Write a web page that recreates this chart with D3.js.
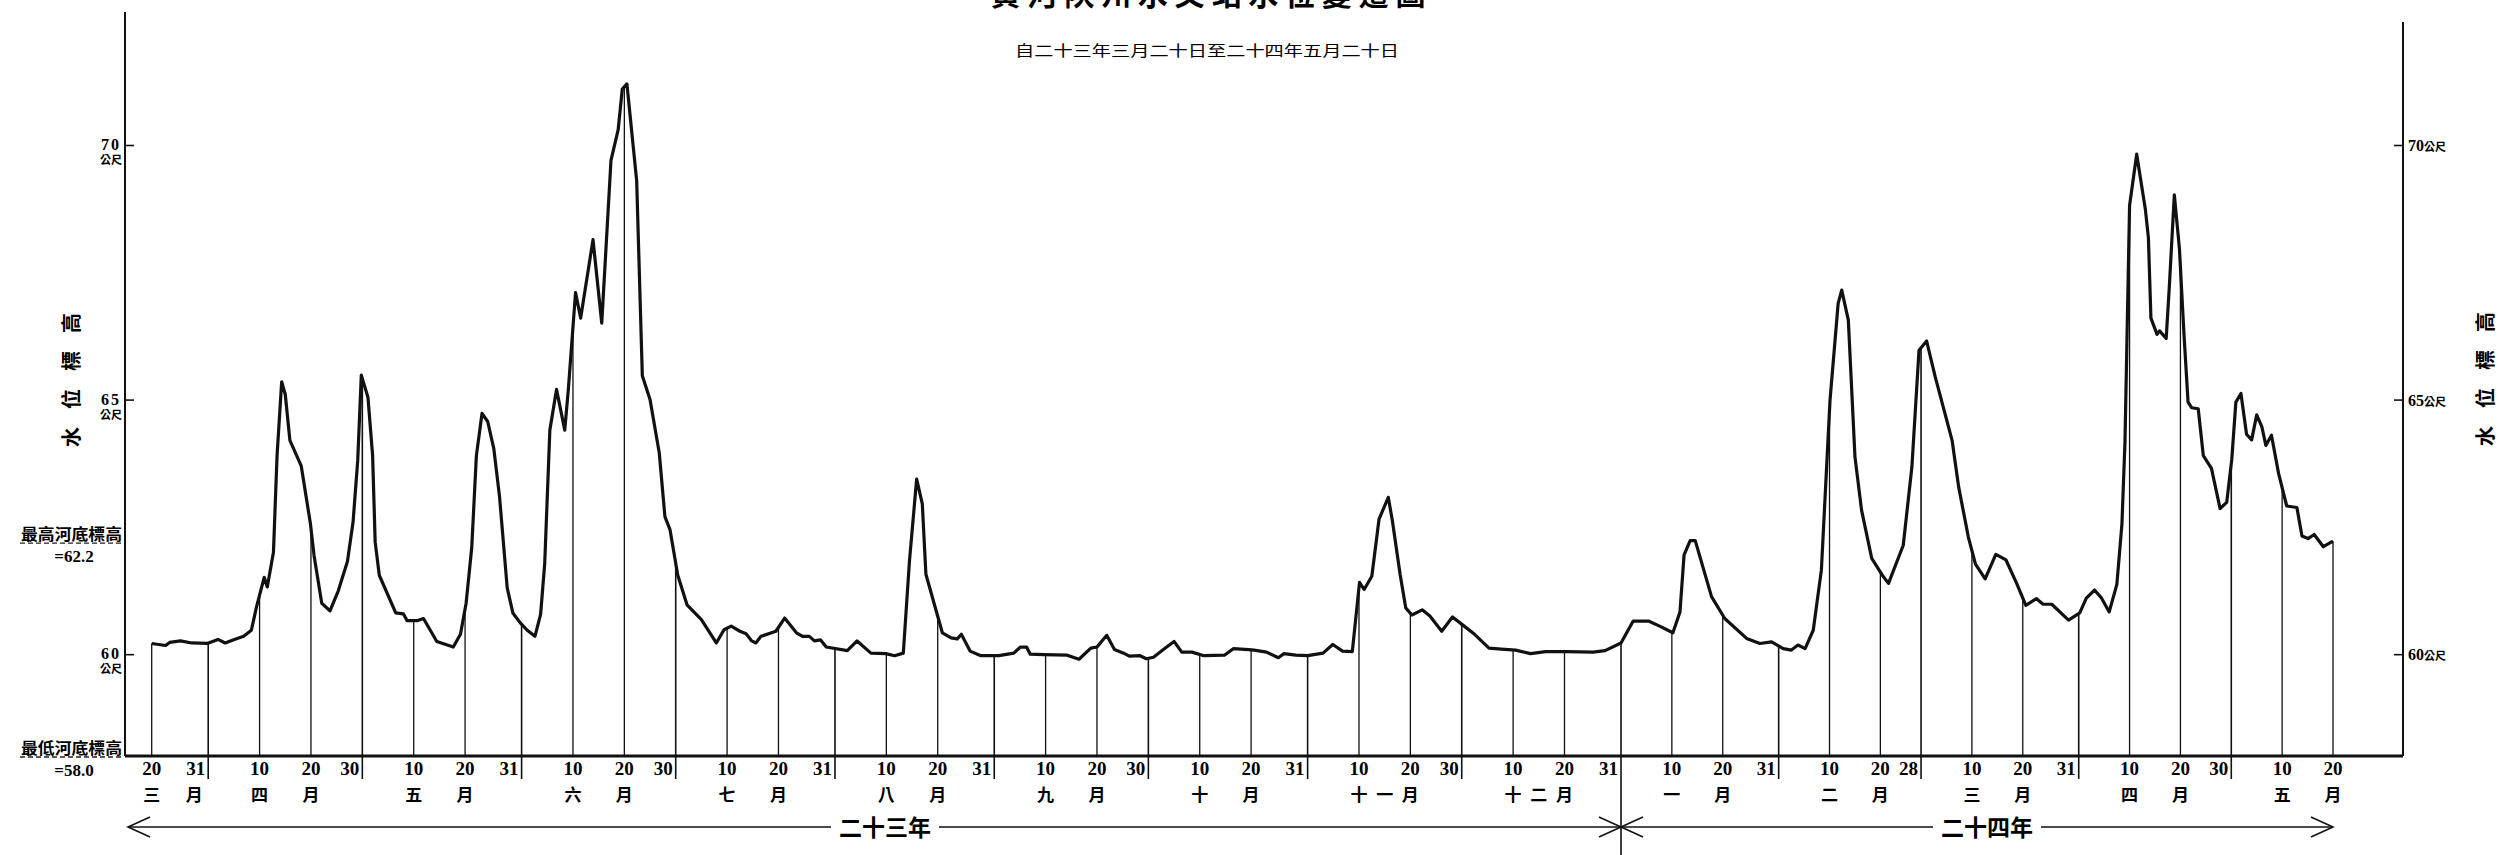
<!DOCTYPE html>
<html>
<head>
<meta charset="utf-8">
<script src="https://cdn.jsdelivr.net/npm/d3@7"></script>
<style>
  html, body { margin: 0; padding: 0; background: #fff; }
  svg { display: block; }
</style>
</head>
<body>
<svg id="chart" width="2499" height="855"></svg>
<script>
// Readings: days after 1934-03-20 and water level (metres above datum)
const readingDays = [
  0, 2.7, 3.5, 5.6, 7.8, 10.8, 12.9, 14.3, 16.1, 17.9, 19.4, 20.4, 21.9, 22.5, 23.7, 24.4, 25.3, 26, 26.9, 29.1,
  30.9, 31.6, 33.1, 34.7, 36.3, 38.1, 39.2, 40.1, 40.8, 42.1, 43, 43.5, 44.3, 47.5, 49, 49.7, 51.8, 52.9, 55.5, 58.7,
  60.1, 61.2, 62.3, 63.2, 64.3, 65.4, 66.6, 67.7, 69.2, 70.3, 71.7, 73.1, 74.6, 75.7, 76.5, 77.5, 78.8, 80.4, 81.1, 82.5,
  83.5, 85.9, 87.6, 89.4, 90.8, 91.6, 92.5, 94.4, 95.5, 97, 98.8, 99.9, 100.9, 102.4, 104.2,
  107, 109.9, 111.4, 112.8, 114.5, 115.7, 116.8, 117.6, 118.6, 121.5, 123.2, 125.5, 126.7, 128, 129, 130.2, 131.3, 135.4, 137.3, 140,
  142.9, 144.6, 146.3, 147.5, 148.9, 150, 150.7, 152.9, 153.9, 155.6, 156.8, 157.6, 159.3, 161.4, 164.9, 167.8, 169.1, 170.3, 171, 173.6,
  178.2, 180.5, 182.8, 184, 185.9, 187.4, 189.2, 190.3, 192.4, 193.6, 195, 197.3, 199, 200.5, 202.5, 204.8, 208.8, 210.6, 213.5, 214.6,
  217, 219.3, 220.4, 222.7, 225, 228, 229.9, 231.8, 233.7, 235.1, 236, 237.5, 238.9, 240.7, 241.5, 243, 244.1, 245.3, 247.3, 248.8,
  251.1, 253.2, 255.1, 257.5, 260.3, 262.7, 265.5, 268.4, 271.3, 275.4, 280.6, 282.9, 286,
  288.4, 291.4, 293.6, 296.2, 297.6, 298.4, 299.6, 300.6, 303.8, 306.4, 310.7, 313.3, 315.6, 317.9, 319.5, 320.8, 322.2, 323.8, 325.4, 327.1,
  328.7, 329.4, 330.7, 332, 333.3, 335.3, 337.6, 338.6, 341.5, 343.2, 344.6, 346.1, 347.8, 351.1, 352.4, 354.3, 355.7, 357.6, 359.7, 361.7,
  363.8, 365.6, 367.7, 369, 370.7, 374, 376.2, 377.5, 379.1, 380.5, 382, 383.5, 384.5, 385.1, 386, 387.4, 389.1, 389.7, 390.2, 391.4,
  391.9, 393.2, 393.8, 394.8, 395.8, 396.7, 397.5, 398.2, 399.5, 400.5, 402.1, 403.8, 405.1, 406.1, 406.9, 407.9, 409, 410, 411, 412,
  412.8, 413.9, 415.3, 416.9, 418.9, 419.9, 421.1, 422.3, 424.1, 426
];
const waterLevels = [
  60.21, 60.17, 60.23, 60.26, 60.22, 60.21, 60.29, 60.22, 60.29, 60.35, 60.47, 60.93, 61.51, 61.32, 62.0, 63.9, 65.35, 65.1, 64.2, 63.7,
  62.56, 61.94, 61.0, 60.85, 61.24, 61.82, 62.6, 63.8, 65.48, 65.04, 63.9, 62.2, 61.55, 60.81, 60.79, 60.66, 60.66, 60.7, 60.25, 60.14,
  60.39, 61.0, 62.1, 63.9, 64.73, 64.57, 64.03, 63.1, 61.3, 60.81, 60.62, 60.47, 60.35, 60.78, 61.78, 64.4, 65.2, 64.4, 65.2, 67.1,
  66.6, 68.14, 66.5, 69.7, 70.3, 71.1, 71.2, 69.3, 65.47, 65.0, 63.95, 62.7, 62.44, 61.55, 60.97,
  60.68, 60.22, 60.48, 60.55, 60.45, 60.40, 60.26, 60.22, 60.35, 60.45, 60.71, 60.42, 60.35, 60.35, 60.26, 60.28, 60.14, 60.07, 60.26, 60.02,
  60.01, 59.97, 60.02, 61.83, 63.44, 62.95, 61.57, 60.78, 60.42, 60.32, 60.30, 60.39, 60.06, 59.97, 59.97, 60.02, 60.14, 60.14, 60.00, 59.99,
  59.98, 59.90, 60.12, 60.14, 60.37, 60.09, 60.02, 59.96, 59.97, 59.91, 59.94, 60.12, 60.25, 60.04, 60.04, 59.97, 59.98, 60.11, 60.09, 60.08,
  60.04, 59.93, 60.01, 59.98, 59.97, 60.02, 60.19, 60.06, 60.05, 61.41, 61.27, 61.53, 62.65, 63.08, 62.62, 61.57, 60.91, 60.77, 60.87, 60.75,
  60.45, 60.73, 60.58, 60.39, 60.12, 60.10, 60.08, 60.01, 60.05, 60.05, 60.04, 60.07, 60.22,
  60.65, 60.65, 60.55, 60.42, 60.83, 61.95, 62.23, 62.23, 61.13, 60.70, 60.31, 60.21, 60.24, 60.11, 60.08, 60.18, 60.11, 60.47, 61.65, 64.99,
  66.89, 67.15, 66.56, 63.88, 62.83, 61.88, 61.52, 61.39, 62.14, 63.68, 65.97, 66.15, 65.44, 64.2, 63.28, 62.30, 61.77, 61.48, 61.96, 61.85,
  61.39, 60.96, 61.09, 60.98, 60.98, 60.67, 60.81, 61.10, 61.26, 61.10, 60.83, 61.37, 62.56, 64.18, 68.81, 69.82, 68.74, 68.18, 66.60, 66.28,
  66.35, 66.20, 67.19, 69.02, 67.97, 66.28, 64.95, 64.84, 64.82, 63.90, 63.65, 62.86, 62.98, 63.83, 64.95, 65.12, 64.32, 64.21, 64.70, 64.47,
  64.10, 64.30, 63.55, 62.91, 62.88, 62.32, 62.27, 62.35, 62.11, 62.22
];

// Dates marked along the bottom (10th, 20th and last day of each month)
const tickDates = [
  "1934-03-20", "1934-03-31", "1934-04-10", "1934-04-20", "1934-04-30", "1934-05-10", "1934-05-20", "1934-05-31",
  "1934-06-10", "1934-06-20", "1934-06-30", "1934-07-10", "1934-07-20", "1934-07-31", "1934-08-10", "1934-08-20",
  "1934-08-31", "1934-09-10", "1934-09-20", "1934-09-30", "1934-10-10", "1934-10-20", "1934-10-31", "1934-11-10",
  "1934-11-20", "1934-11-30", "1934-12-10", "1934-12-20", "1934-12-31", "1935-01-10", "1935-01-20", "1935-01-31",
  "1935-02-10", "1935-02-20", "1935-02-28", "1935-03-10", "1935-03-20", "1935-03-31", "1935-04-10", "1935-04-20",
  "1935-04-30", "1935-05-10", "1935-05-20"
];
const monthKeys  = ["1934-03", "1934-04", "1934-05", "1934-06", "1934-07", "1934-08", "1934-09", "1934-10",
                    "1934-11", "1934-12", "1935-01", "1935-02", "1935-03", "1935-04", "1935-05"];
const monthNames = ["三", "四", "五", "六", "七", "八", "九", "十", "十一", "十二", "一", "二", "三", "四", "五"];

const yearLabels = ["二十三年", "二十四年"];
const levelTicks = [60, 65, 70];
const levelUnit = "公尺";
const axisTitle = "水位標高";
const chartTitle = "黄 河 陝 州 水 文 站 水 位 變 遷 圖";
const chartSubtitle = "自二十三年三月二十日至二十四年五月二十日";
const bedHigh = 62.2, bedLow = 58.0;

const parse = d3.timeParse("%Y-%m-%d");
const start = parse("1934-03-20");
const yearBreak = parse("1934-12-31");
const end = parse("1935-05-20");
const dayMs = 864e5;
const toDate = d => new Date(start.getTime() + d * dayMs);

const readings = readingDays.map((d, i) => ({ date: toDate(d), level: waterLevels[i] }));
const ticks = tickDates.map(parse);

const svg = d3.select("#chart");
const CJK = "'Noto Sans CJK TC', 'Noto Sans CJK SC', sans-serif";
const SERIF = "'Liberation Serif', 'DejaVu Serif', serif";

const leftX = 125, rightX = 2403;
const x = d3.scaleTime().domain([start, yearBreak, end]).range([151.7, 1621, 2333]);
const y = d3.scaleLinear().domain([bedLow, 70]).range([756, 145]);
const baseY = y(bedLow);

// level at an arbitrary date (linear between readings)
const bis = d3.bisector(r => r.date).left;
function levelAt(dt) {
  const i = bis(readings, dt);
  if (i <= 0) return readings[0].level;
  if (i >= readings.length) return readings[readings.length - 1].level;
  const a = readings[i - 1], b = readings[i];
  const t = (dt - a.date) / (b.date - a.date);
  return a.level + t * (b.level - a.level);
}
const isMonthEnd = dt => d3.timeDay.offset(dt, 1).getMonth() !== dt.getMonth();

// ---- title block (the heading runs off the top edge of the sheet)
svg.append("text")
  .attr("x", 1208).attr("y", 5)
  .attr("text-anchor", "middle")
  .attr("font-family", CJK).attr("font-weight", 700).attr("font-size", 30)
  .text(chartTitle);

svg.append("text")
  .attr("x", 1207).attr("y", 56)
  .attr("text-anchor", "middle")
  .attr("font-family", CJK).attr("font-size", 15)
  .attr("textLength", 384).attr("lengthAdjust", "spacingAndGlyphs")
  .text(chartSubtitle);

// ---- frame: side axes and baseline
svg.append("line").attr("x1", leftX).attr("x2", leftX).attr("y1", 12).attr("y2", baseY)
  .attr("stroke", "#111").attr("stroke-width", 2);
svg.append("line").attr("x1", rightX).attr("x2", rightX).attr("y1", 22).attr("y2", baseY)
  .attr("stroke", "#111").attr("stroke-width", 2);

const leftAxis = svg.append("g").attr("transform", `translate(${leftX},0)`)
  .call(d3.axisRight(y).tickValues(levelTicks).tickSize(9).tickFormat(""));
const rightAxis = svg.append("g").attr("transform", `translate(${rightX},0)`)
  .call(d3.axisLeft(y).tickValues(levelTicks).tickSize(9).tickFormat(""));
[leftAxis, rightAxis].forEach(g => {
  g.select(".domain").remove();
  g.selectAll(".tick line").attr("stroke", "#111").attr("stroke-width", 1.6);
});

// left tick labels: value with unit underneath
levelTicks.forEach(v => {
  svg.append("text")
    .attr("x", 121).attr("y", y(v) + 5)
    .attr("text-anchor", "end")
    .attr("font-family", SERIF).attr("font-weight", 700).attr("font-size", 16)
    .attr("letter-spacing", 2)
    .text(v);
  svg.append("text")
    .attr("x", 122).attr("y", y(v) + 19)
    .attr("text-anchor", "end")
    .attr("font-family", CJK).attr("font-weight", 700).attr("font-size", 11)
    .text(levelUnit);
});
// right tick labels: value followed by unit
levelTicks.forEach(v => {
  const t = svg.append("text")
    .attr("x", rightX + 5).attr("y", y(v) + 6);
  t.append("tspan")
    .attr("font-family", SERIF).attr("font-weight", 700).attr("font-size", 16)
    .text(v);
  t.append("tspan")
    .attr("font-family", CJK).attr("font-weight", 700).attr("font-size", 11)
    .text(levelUnit);
});

// axis titles, characters spread along the axis
[[70, 380], [2484, 379]].forEach(([cx, cy]) => {
  svg.append("text")
    .attr("transform", `translate(${cx},${cy}) rotate(-90)`)
    .attr("text-anchor", "middle").attr("dominant-baseline", "central")
    .attr("font-family", CJK).attr("font-weight", 700).attr("font-size", 20)
    .attr("textLength", 134).attr("lengthAdjust", "spacing")
    .text(axisTitle);
});

// river-bed reference notes
function bedNote(level, label) {
  const yy = y(level);
  svg.append("line").attr("x1", 20).attr("x2", 123).attr("y1", yy + 1).attr("y2", yy + 1)
    .attr("stroke", "#222").attr("stroke-width", 1.3).attr("stroke-dasharray", "5,3");
  svg.append("text")
    .attr("x", 122).attr("y", yy - 2)
    .attr("text-anchor", "end")
    .attr("font-family", CJK).attr("font-weight", 700).attr("font-size", 16)
    .attr("textLength", 101).attr("lengthAdjust", "spacingAndGlyphs")
    .text(label);
  svg.append("text")
    .attr("x", 74).attr("y", yy + 20)
    .attr("text-anchor", "middle")
    .attr("font-family", SERIF).attr("font-weight", 700).attr("font-size", 17)
    .text("=" + level.toFixed(1));
}
bedNote(bedHigh, "最高河底標高");
bedNote(bedLow, "最低河底標高");

// ---- date lines from the baseline up to the curve
svg.append("g").selectAll("line").data(ticks).join("line")
  .attr("x1", d => x(d)).attr("x2", d => x(d))
  .attr("y1", d => y(levelAt(d)))
  .attr("y2", d => +d === +yearBreak ? 855 : (isMonthEnd(d) ? 779 : baseY))
  .attr("stroke", "#111")
  .attr("stroke-width", d => isMonthEnd(d) ? 1.6 : 1.3);

// baseline (lowest bed level)
svg.append("line").attr("x1", leftX).attr("x2", rightX).attr("y1", baseY).attr("y2", baseY)
  .attr("stroke", "#111").attr("stroke-width", 3.2);

// ---- water level curve
const line = d3.line().x(r => x(r.date)).y(r => y(r.level));
svg.append("path").datum(readings)
  .attr("d", line)
  .attr("fill", "none").attr("stroke", "#111")
  .attr("stroke-width", 3.2).attr("stroke-linejoin", "round");

// ---- day numbers
function dayLabelX(d) {
  return isMonthEnd(d) ? x(d) - 3 : x(d);
}
svg.append("g").selectAll("text").data(ticks).join("text")
  .attr("x", d => dayLabelX(d)).attr("y", 775)
  .attr("text-anchor", d => isMonthEnd(d) ? "end" : "middle")
  .attr("font-family", SERIF).attr("font-weight", 700).attr("font-size", 19)
  .text(d => d.getDate());

// ---- month names: first character under the 10th, 月 under the 20th
const monthG = svg.append("g");
monthKeys.forEach((key, i) => {
  const inMonth = ticks.filter(t => d3.timeFormat("%Y-%m")(t) === key);
  let x0, x1;
  if (inMonth[0].getDate() === 20) {
    // partial first month: name under the 20th, 月 under the month-end label
    x0 = x(inMonth[0]);
    x1 = x(inMonth[1]) - 14;
  } else {
    x0 = x(inMonth.find(t => t.getDate() === 10));
    x1 = x(inMonth.find(t => t.getDate() === 20));
  }
  const chars = monthNames[i].split("").concat(["月"]);
  chars.forEach((c, j) => {
    const cx = x0 + (x1 - x0) * j / (chars.length - 1);
    monthG.append("text")
      .attr("x", cx).attr("y", 801)
      .attr("text-anchor", "middle")
      .attr("font-family", CJK).attr("font-weight", 700).attr("font-size", 17)
      .text(c);
  });
});

// ---- year spans with arrows
const arrowY = 827;
function chevron(tipX, dir) {
  svg.append("path")
    .attr("d", `M${tipX - dir * 22},${arrowY - 10} L${tipX},${arrowY} L${tipX - dir * 22},${arrowY + 10}`)
    .attr("fill", "none").attr("stroke", "#111").attr("stroke-width", 1.6);
}
function yearSpan(x0, x1, label, cx) {
  const half = 54;
  svg.append("line").attr("x1", x0).attr("x2", cx - half).attr("y1", arrowY).attr("y2", arrowY)
    .attr("stroke", "#111").attr("stroke-width", 1.6);
  svg.append("line").attr("x1", cx + half).attr("x2", x1).attr("y1", arrowY).attr("y2", arrowY)
    .attr("stroke", "#111").attr("stroke-width", 1.6);
  chevron(x0, -1);
  chevron(x1, 1);
  svg.append("text")
    .attr("x", cx).attr("y", arrowY + 9)
    .attr("text-anchor", "middle")
    .attr("font-family", CJK).attr("font-weight", 700).attr("font-size", 23)
    .text(label);
}
yearSpan(128, x(yearBreak), yearLabels[0], 885);
yearSpan(x(yearBreak), x(end), yearLabels[1], 1987);
</script>
</body>
</html>
